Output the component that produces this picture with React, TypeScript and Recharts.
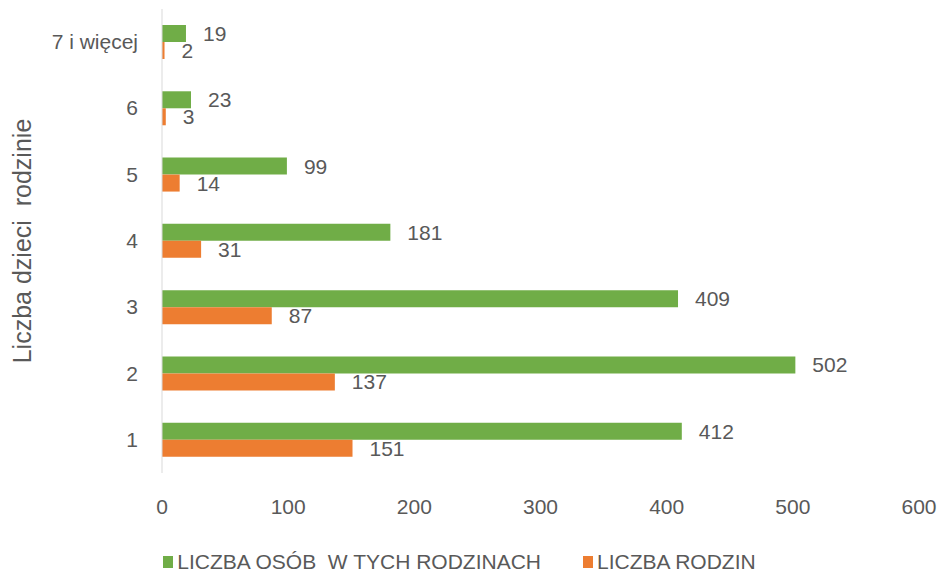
import React from "react";
import { Bar, BarChart, LabelList, Legend, XAxis, YAxis, Label } from "recharts";

const categories = ["1", "2", "3", "4", "5", "6", "7 i więcej"];
const osobyValues = [412, 502, 409, 181, 99, 23, 19];
const rodzinyValues = [151, 137, 87, 31, 14, 3, 2];
const xTicks = [0, 100, 200, 300, 400, 500, 600];

const seriesNames = {
  osoby: "LICZBA OSÓB  W TYCH RODZINACH",
  rodziny: "LICZBA RODZIN",
};

const GREEN = "#70AD47";
const ORANGE = "#ED7D31";
const TEXT = "#595959";
const FONT = "'Liberation Sans', Arial, sans-serif";

const data = categories.map((name, i) => ({
  name,
  osoby: osobyValues[i],
  rodziny: rodzinyValues[i],
}));

function XTick({ x, y, payload }: any) {
  return (
    <text x={x} y={y + 33} textAnchor="middle" fill={TEXT} fontSize={21} fontFamily={FONT}>
      {payload.value}
    </text>
  );
}

function YTick({ x, y, payload }: any) {
  return (
    <text x={x - 16} y={y + 7} textAnchor="end" fill={TEXT} fontSize={21} fontFamily={FONT}>
      {payload.value}
    </text>
  );
}

function LegendContent() {
  const items = [
    { key: "osoby", color: GREEN, label: seriesNames.osoby },
    { key: "rodziny", color: ORANGE, label: seriesNames.rodziny },
  ];
  return (
    <div style={{ display: "flex", justifyContent: "center", gap: 42, fontFamily: FONT, height: 24 }}>
      {items.map((it) => (
        <div key={it.key} style={{ display: "flex", alignItems: "center" }}>
          <span style={{ display: "inline-block", width: 10, height: 12, background: it.color, marginRight: 4 }} />
          <span style={{ color: TEXT, fontSize: 21, whiteSpace: "pre" }}>{it.label}</span>
        </div>
      ))}
    </div>
  );
}

export default function App() {
  return (
    <div style={{ position: "absolute", left: 0, top: 0, width: 942, height: 574, background: "#fff" }}>
      <BarChart
        width={942}
        height={574}
        data={data}
        layout="vertical"
        margin={{ top: 9, right: 23, bottom: 0, left: 0 }}
        barGap={0}
      >
        <XAxis
          type="number"
          domain={[0, 600]}
          ticks={xTicks}
          axisLine={false}
          tickLine={false}
          tick={<XTick />}
          height={77}
        />
        <YAxis
          type="category"
          dataKey="name"
          reversed
          width={162}
          axisLine={{ stroke: "#D9D9D9", strokeWidth: 1 }}
          tickLine={false}
          tick={<YTick />}
        >
          <Label
            content={({ viewBox }: any) => (
              <text
                x={22}
                y={viewBox.y + viewBox.height / 2}
                transform={`rotate(-90, 22, ${viewBox.y + viewBox.height / 2})`}
                textAnchor="middle"
                dominantBaseline="central"
                fill={TEXT}
                fontSize={25}
                fontFamily={FONT}
                style={{ whiteSpace: "pre" }}
              >
                Liczba dzieci  rodzinie
              </text>
            )}
          />
        </YAxis>
        <Legend verticalAlign="bottom" content={<LegendContent />} wrapperStyle={{ bottom: 0 }} />
        <Bar dataKey="osoby" name={seriesNames.osoby} fill={GREEN} barSize={17} isAnimationActive={false}>
          <LabelList dataKey="osoby" position="right" offset={17} fill={TEXT} fontSize={21} fontFamily={FONT} />
        </Bar>
        <Bar dataKey="rodziny" name={seriesNames.rodziny} fill={ORANGE} barSize={17} isAnimationActive={false}>
          <LabelList dataKey="rodziny" position="right" offset={17} fill={TEXT} fontSize={21} fontFamily={FONT} />
        </Bar>
      </BarChart>
    </div>
  );
}
